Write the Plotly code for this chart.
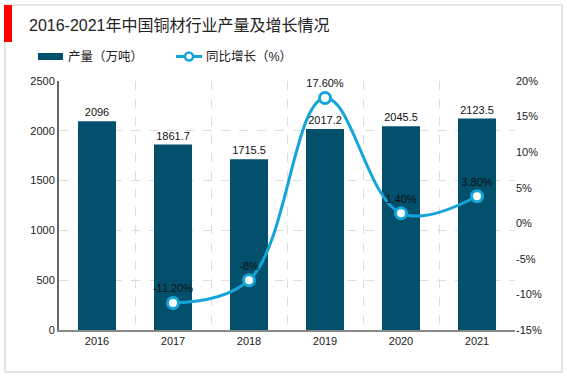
import plotly.graph_objects as go

years = ["2016", "2017", "2018", "2019", "2020", "2021"]
output = [2096, 1861.7, 1715.5, 2017.2, 2045.5, 2123.5]
output_labels = ["2096", "1861.7", "1715.5", "2017.2", "2045.5", "2123.5"]
growth_years = ["2017", "2018", "2019", "2020", "2021"]
growth = [-11.2, -8, 17.6, 1.4, 3.8]
growth_labels = ["-11.20%", "-8%", "17.60%", "1.40%", "3.80%"]
left_ticks = [0, 500, 1000, 1500, 2000, 2500]
right_ticks = [-15, -10, -5, 0, 5, 10, 15, 20]
right_tick_text = ["-15%", "-10%", "-5%", "0%", "5%", "10%", "15%", "20%"]
title = "2016-2021年中国铜材行业产量及增长情况"
bar_name = "产量（万吨）"
line_name = "同比增长（%）"

BAR_C = "#02506B"
LINE_C = "#13A5D9"
FONT = "Liberation Sans, Noto Sans CJK SC, sans-serif"

W, H = 567, 378
L, R, T, B = 59, 52, 81, 48
PW, PH = W - L - R, H - T - B

def px(x):
    return (x - L) / PW

def py(y):
    return (H - B - y) / PH

fig = go.Figure()
fig.add_trace(go.Bar(
    x=years, y=output, name=bar_name, marker=dict(color=BAR_C, line=dict(width=0)),
    width=0.5, text=output_labels, textposition="outside",
    textfont=dict(size=11, color="#111", family=FONT), cliponaxis=False,
    showlegend=False,
))
fig.add_trace(go.Scatter(
    x=growth_years, y=growth, name=line_name, yaxis="y2", mode="lines+markers+text",
    line=dict(color=LINE_C, width=3, shape="spline", smoothing=1.1),
    marker=dict(size=11, color="white", line=dict(color=LINE_C, width=3)),
    text=growth_labels, textposition="top center",
    textfont=dict(size=11, color="#111", family=FONT), cliponaxis=False,
    showlegend=False,
))

shapes = [
    dict(type="rect", xref="paper", yref="paper", x0=px(5), x1=px(562), y0=py(372), y1=py(5),
         line=dict(color="#DDDDDD", width=1.5), fillcolor="rgba(0,0,0,0)", layer="below"),
    dict(type="rect", xref="paper", yref="paper", x0=px(4), x1=px(12), y0=py(42), y1=py(5),
         line=dict(width=0), fillcolor="#FF0000"),
    dict(type="rect", xref="paper", yref="paper", x0=px(38), x1=px(63), y0=py(60), y1=py(53),
         line=dict(width=0), fillcolor=BAR_C),
    dict(type="line", xref="paper", yref="paper", x0=px(176), x1=px(202), y0=py(56.5), y1=py(56.5),
         line=dict(color=LINE_C, width=3)),
    dict(type="circle", xref="paper", yref="paper", x0=px(185), x1=px(193), y0=py(60.5), y1=py(52.5),
         line=dict(color=LINE_C, width=2.5), fillcolor="white"),
]
annotations = [
    dict(text=title, xref="paper", yref="paper", x=px(27), y=py(25), xanchor="left", yanchor="middle",
         showarrow=False, font=dict(size=16, color="#222", family=FONT)),
    dict(text=bar_name, xref="paper", yref="paper", x=px(66), y=py(56.5), xanchor="left", yanchor="middle",
         showarrow=False, font=dict(size=12.5, color="#222", family=FONT)),
    dict(text=line_name, xref="paper", yref="paper", x=px(204), y=py(56.5), xanchor="left", yanchor="middle",
         showarrow=False, font=dict(size=12.5, color="#222", family=FONT)),
]

fig.update_layout(
    width=W, height=H, margin=dict(l=L, r=R, t=T, b=B),
    paper_bgcolor="white", plot_bgcolor="white",
    font=dict(family=FONT, size=11, color="#222"),
    shapes=shapes, annotations=annotations, bargap=0.5,
    xaxis=dict(type="category", tickson="boundaries", ticks="", showgrid=True,
               gridcolor="#DDDDDD", griddash="dash", gridwidth=1,
               showline=True, linecolor="#888888", linewidth=2,
               tickfont=dict(size=11, color="#222"), range=[-0.5, 5.5]),
    yaxis=dict(range=[0, 2500], tickvals=left_ticks, showgrid=True, gridcolor="#DDDDDD",
               griddash="dash", showline=True, linecolor="#666666", linewidth=2,
               ticks="", zeroline=False, tickfont=dict(size=11, color="#222")),
    yaxis2=dict(range=[-15, 20], tickvals=right_ticks, ticktext=right_tick_text,
                overlaying="y", side="right", showgrid=False, zeroline=False,
                showline=False, ticks="", tickfont=dict(size=11, color="#222")),
)

fig.write_html("out.html", config={"displayModeBar": False},
               post_script="document.body.style.margin='0';document.body.style.overflow='hidden';")
